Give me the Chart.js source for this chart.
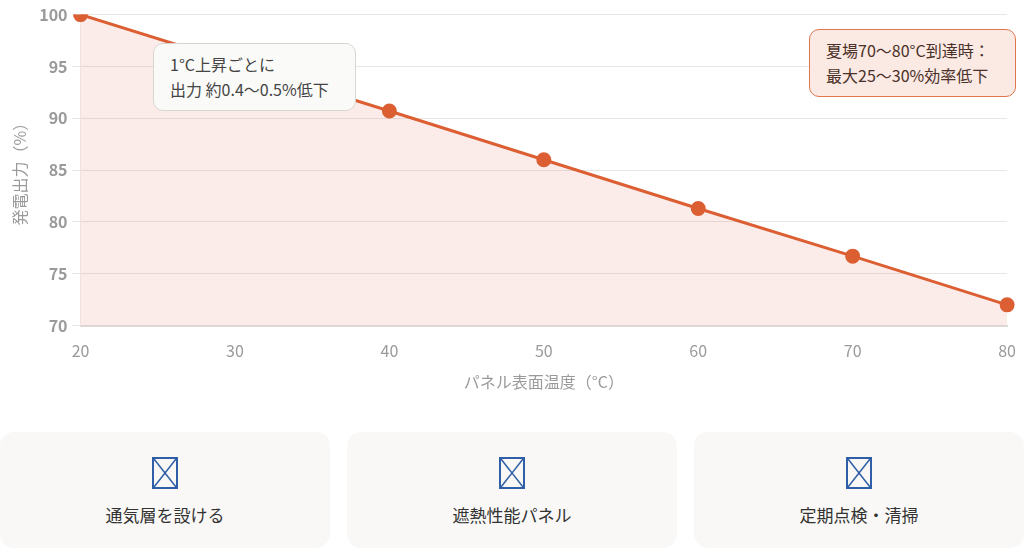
<!DOCTYPE html>
<html lang="ja">
<head>
<meta charset="utf-8">
<title>パネル表面温度と発電出力</title>
<script src="https://cdn.jsdelivr.net/npm/chart.js@4/dist/chart.umd.min.js"></script>
<style>
  * { box-sizing: border-box; }
  body {
    margin: 0;
    width: 1024px;
    height: 550px;
    overflow: hidden;
    background: #fff;
    font-family: "Noto Sans CJK JP", "Noto Sans", sans-serif;
  }
  .chart-wrapper {
    position: relative;
    width: 1024px;
    height: 396px;
  }
  .note {
    position: absolute;
    font-size: 16px;
    line-height: 25px;
    padding: 8px 16px;
    border-radius: 10px;
  }
  .note-rate {
    left: 153px;
    top: 43px;
    width: 203px;
    background: #fafaf8;
    border: 1px solid #d8d6d2;
    color: #444;
  }
  .note-summer {
    left: 809px;
    top: 29px;
    width: 207px;
    background: #fbe9e3;
    border: 1px solid #e0764f;
    color: #4a3028;
  }
  .cards {
    position: absolute;
    top: 432px;
    left: 0;
    width: 1024px;
    display: flex;
    gap: 17px;
  }
  .card {
    flex: 1;
    height: 116px;
    background: #f9f8f6;
    border-radius: 14px;
    text-align: center;
    padding-top: 25px;
  }
  .card svg { display: block; margin: 0 auto; }
  .card span {
    display: block;
    margin-top: 13px;
    font-size: 17px;
    color: #333;
  }
</style>
</head>
<body>
<div class="chart-wrapper">
  <canvas id="temp-output"></canvas>
  <div class="note note-rate">1°C上昇ごとに<br>出力 約0.4〜0.5%低下</div>
  <div class="note note-summer">夏場70〜80°C到達時：<br>最大25〜30%効率低下</div>
</div>
<div class="cards" id="cards"></div>

<script>
// Data
const temperatures = [20, 40, 50, 60, 70, 80];
const outputPercent = [100, 90.7, 86, 81.3, 76.7, 72];
const cardLabels = ["通気層を設ける", "遮熱性能パネル", "定期点検・清掃"];

const lineColor = "#dc5f33";
const tickColor = "#9a9a9a";
const gridColor = "#e9e6e2";
const fontFamily = '"Noto Sans CJK JP", "Noto Sans", sans-serif';

// Cards under the chart
const drawCards = () => {
  const wrap = document.getElementById("cards");
  cardLabels.forEach((label) => {
    const card = document.createElement("div");
    card.className = "card";
    card.innerHTML =
      '<svg width="26" height="32" viewBox="0 0 26 32">' +
      '<rect x="1" y="1" width="24" height="30" fill="none" stroke="#2f5fa6" stroke-width="2"/>' +
      '<line x1="2" y1="2" x2="24" y2="30" stroke="#2f5fa6" stroke-width="1.5"/>' +
      '<line x1="24" y1="2" x2="2" y2="30" stroke="#2f5fa6" stroke-width="1.5"/>' +
      "</svg><span>" + label + "</span>";
    wrap.append(card);
  });
};

// Chart
const drawChart = () => {
  const canvas = document.getElementById("temp-output");
  const data = {
    datasets: [
      {
        label: "発電出力",
        data: temperatures.map((t, i) => ({ x: t, y: outputPercent[i] })),
        borderColor: lineColor,
        backgroundColor: "rgba(224, 100, 70, 0.12)",
        borderWidth: 3,
        pointRadius: 6,
        pointBackgroundColor: lineColor,
        pointBorderColor: lineColor,
        fill: true,
        tension: 0,
        clip: { left: 10, top: 0, right: 10, bottom: 10 },
      },
    ],
  };
  const chartSettings = {
    responsive: true,
    maintainAspectRatio: false,
    animation: false,
    layout: { padding: { top: 4, right: 4, left: 6 } },
    plugins: {
      legend: { display: false },
      tooltip: { enabled: false },
    },
    scales: {
      x: {
        type: "linear",
        min: 20,
        max: 80,
        ticks: {
          stepSize: 10,
          color: tickColor,
          font: { family: fontFamily, size: 16 },
          padding: 8,
        },
        grid: { display: false },
        border: { color: "#ddd8d4", width: 2 },
        title: {
          display: true,
          text: "パネル表面温度（°C）",
          color: tickColor,
          font: { family: fontFamily, size: 16 },
          padding: { top: 4 },
        },
      },
      y: {
        min: 70,
        max: 100,
        ticks: {
          stepSize: 5,
          color: tickColor,
          font: { family: fontFamily, size: 16, weight: "bold" },
          padding: 5,
        },
        grid: { color: gridColor },
        border: { color: "#ece4e0" },
        title: {
          display: true,
          text: "発電出力（%）",
          color: tickColor,
          font: { family: fontFamily, size: 16 },
          padding: { top: 4, bottom: 5 },
        },
      },
    },
  };
  new Chart(canvas, {
    type: "line",
    data: data,
    options: chartSettings,
  });
};

drawChart();
drawCards();
</script>
</body>
</html>
